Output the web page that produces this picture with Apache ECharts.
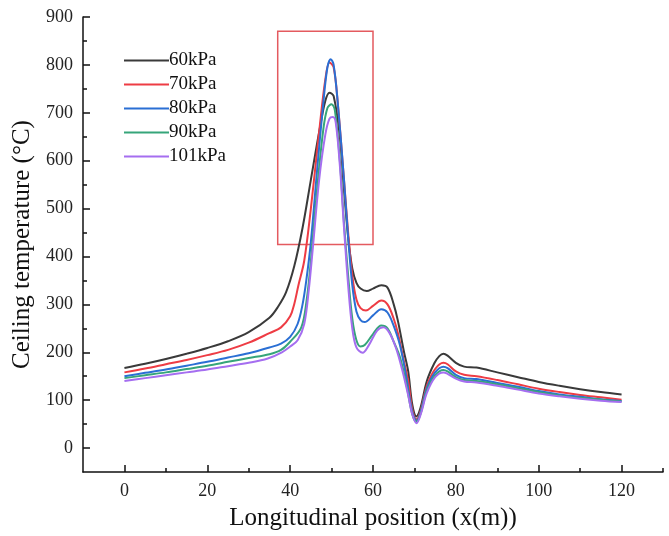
<!DOCTYPE html>
<html><head><meta charset="utf-8">
<script src="https://cdn.jsdelivr.net/npm/echarts@6/dist/echarts.min.js"></script>
<style>html,body{margin:0;padding:0;background:#fff}#c{width:669px;height:536px}</style>
</head><body><div id="c"></div>
<script>
const seriesNames = ['60kPa','70kPa','80kPa','90kPa','101kPa'];
const colors = ['#3a3a3a','#ee3c44','#2a6fd4','#36a57a','#a56ef0'];

const x60 = [0,5,10,15,20,25,30,35,37,39,41,43,45,47,48.5,49.5,50.5,52,53,54,55,56,57,58.5,60,62,63.5,65,66,67.5,68.5,69.5,70.5,71.5,73,74.8,76,77,78,80,82,85,90,95,100,105,110,115,120];
const y60 = [167,176,186,197,209,223,242,272,294,325,380,460,560,660,725,742,735,650,540,440,375,345,333,328,333,340,335,300,266,200,160,90,66,85,140,177,192,197,193,178,170,168,158,148,138,130,123,117,112];

const x70 = [0,5,10,15,20,25,30,35,37.8,40,41,42,43.4,45,47,48.5,49.5,50.5,51.5,53,54,55,56,57,58.3,60,62,63.5,65,66,67.5,68.5,69.5,70.5,71.5,73,75,77,78,80,82,85,90,95,100,105,110,115,120];
const y70 = [158,166,175,184,194,205,220,240,252,275,301,340,391,500,660,770,805,795,720,560,450,360,310,292,287,297,308,300,270,240,180,140,80,60,78,130,165,178,175,160,153,150,142,133,124,117,111,106,101];

const x80 = [0,5,10,15,20,25,30,35,37.8,40,41.8,43,43.9,45,46.5,48,49,49.8,50.5,51.5,53,54,55,56,57,58,60,62,63.5,65,66.5,68,69.5,70.5,71.5,73,75,77,78,80,82,85,90,95,100,105,110,115,120];
const y80 = [150,157,164,172,180,189,198,210,218,232,259,300,350,430,580,720,795,812,800,720,560,440,340,285,267,263,277,290,283,255,215,150,75,57,75,125,158,170,167,153,146,144,136,128,119,112,107,102,98];

const x90 = [0,5,10,15,20,25,30,35,37.8,40,42.7,44,45,46.5,48,49,50,50.8,52,53,54,55,56,57,58,60,62,63.5,65,66.5,68,69.5,70.5,71.5,73,75,77,78,80,82,85,90,95,100,105,110,115,120];
const y90 = [146,152,158,165,172,180,188,196,205,222,252,310,390,540,665,710,718,705,600,470,360,270,225,212,215,238,256,250,222,190,135,70,55,72,120,152,163,160,148,142,140,133,125,117,110,105,101,97];

const x101 = [0,5,10,15,20,25,30,34.6,38,40,41.8,43.4,44.5,45.5,47,48.5,49.5,50.3,51,52,53,54,55,56,57.5,59,61,62.5,64,65.5,67,68.5,69.5,70.5,71.5,73,75,77,78,80,82,85,90,95,100,105,110,115,120];
const y101 = [140,146,152,158,164,171,178,187,200,212,225,259,330,420,560,655,688,691,680,590,460,340,250,210,199,215,245,252,240,210,165,110,70,52,70,115,148,158,155,145,139,137,130,122,114,108,103,99,96];

const xList = [x60,x70,x80,x90,x101];
const yList = [y60,y70,y80,y90,y101];

const xTickMajor = [0,20,40,60,80,100,120];
const xTickMinor = [10,30,50,70,90,110,130];
const yTickMajor = [0,100,200,300,400,500,600,700,800,900];
const yTickMinor = [50,150,250,350,450,550,650,750,850];
const highlightBox = [[37,425],[60,870]];

const font = '"Liberation Serif","DejaVu Serif",serif';
const chart = echarts.init(document.getElementById('c'));

const series = seriesNames.map((n,i)=>({
  name:n, type:'line', symbol:'none', smooth:0.35,
  xAxisIndex:0, yAxisIndex:0,
  lineStyle:{width:2,color:colors[i]}, itemStyle:{color:colors[i]},
  data: xList[i].map((x,j)=>[x,yList[i][j]]),
  z: 3
}));
series[0].markArea = {
  silent:true,
  itemStyle:{color:'rgba(0,0,0,0)',borderColor:'#e45a5f',borderWidth:1.5},
  data:[[{coord:highlightBox[0]},{coord:highlightBox[1]}]]
};

const axisLineStyle = {onZero:false,lineStyle:{color:'#111',width:1.5}};
chart.setOption({
  animation:false,
  backgroundColor:'#fff',
  grid:{left:83,right:6,top:17,bottom:60},
  legend:{
    orient:'vertical', left:119, top:46, itemWidth:45, itemHeight:2, itemGap:5,
    icon:'rect',
    textStyle:{fontFamily:font,fontSize:19,color:'#111',padding:[0,0,0,-5]},
    data:seriesNames
  },
  xAxis:[{
    type:'value', min:-10, max:130,
    name:'Longitudinal position (x(m))', nameLocation:'middle', nameGap:34,
    nameTextStyle:{fontFamily:font,fontSize:25,color:'#111'},
    axisLine:axisLineStyle,
    axisTick:{inside:true,length:7,customValues:xTickMajor,lineStyle:{color:'#111',width:1.5}},
    axisLabel:{customValues:xTickMajor,fontFamily:font,fontSize:18,color:'#222',margin:10},
    splitLine:{show:false}
  },{
    type:'value', min:-10, max:130, position:'bottom',
    axisLine:{show:false,onZero:false},
    axisTick:{inside:true,length:4,customValues:xTickMinor,lineStyle:{color:'#111',width:1.5}},
    axisLabel:{show:false}, splitLine:{show:false}
  }],
  yAxis:[{
    type:'value', min:-50, max:900,
    name:'Ceiling temperature (°C)', nameLocation:'middle', nameGap:42,
    nameTextStyle:{fontFamily:font,fontSize:25,color:'#111'},
    axisLine:axisLineStyle,
    axisTick:{inside:true,length:7,customValues:yTickMajor,lineStyle:{color:'#111',width:1.5}},
    axisLabel:{customValues:yTickMajor,fontFamily:font,fontSize:18,color:'#222',margin:10},
    splitLine:{show:false}
  },{
    type:'value', min:-50, max:900, position:'left',
    axisLine:{show:false,onZero:false},
    axisTick:{inside:true,length:4,customValues:yTickMinor,lineStyle:{color:'#111',width:1.5}},
    axisLabel:{show:false}, splitLine:{show:false}
  }],
  series: series
});
</script></body></html>
